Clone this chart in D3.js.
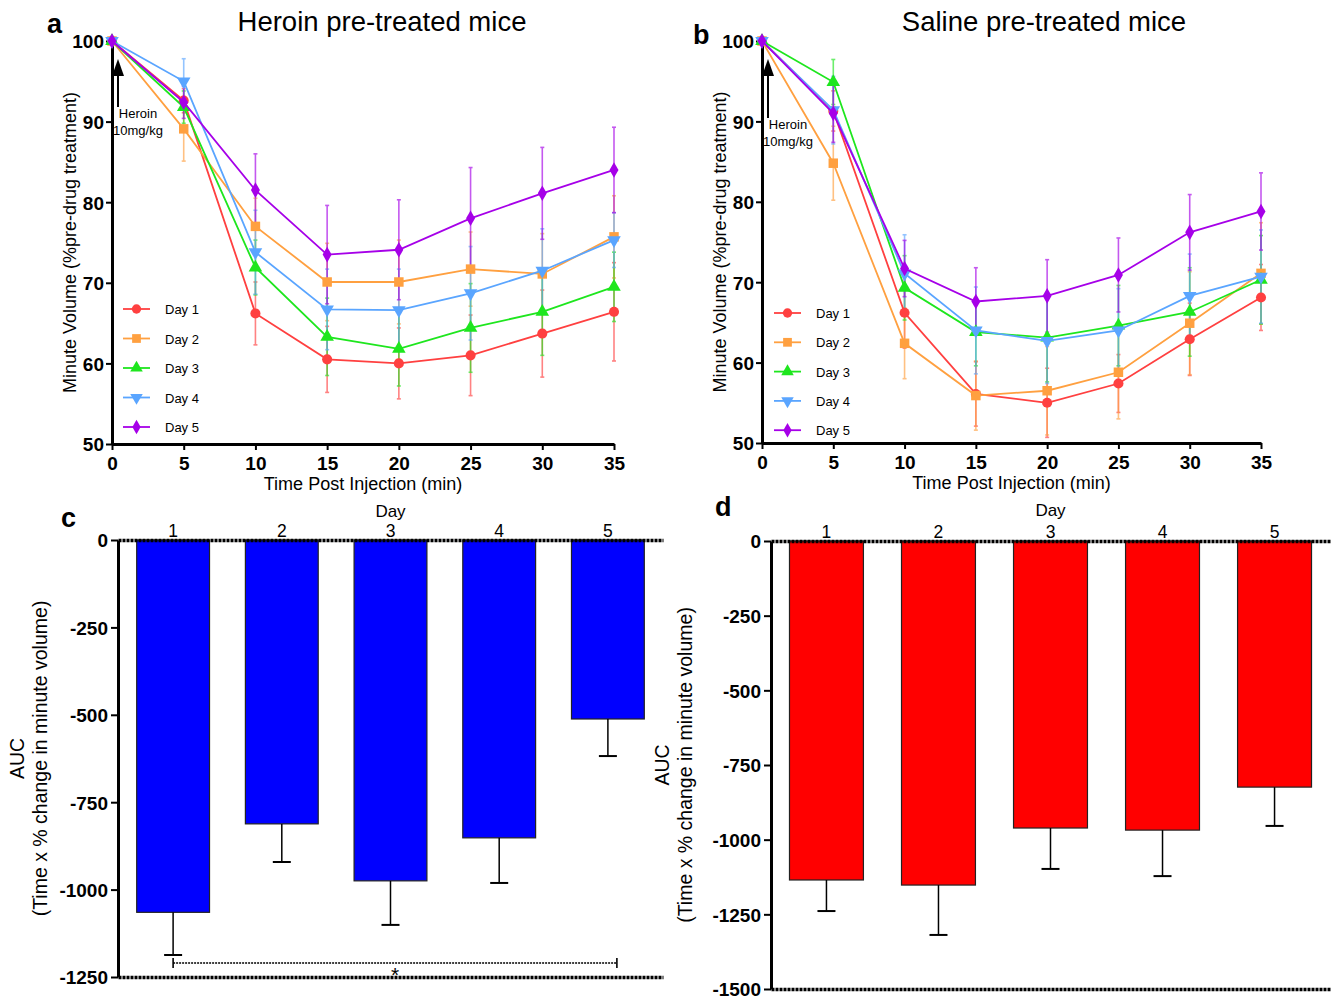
<!DOCTYPE html>
<html>
<head>
<meta charset="utf-8">
<script src="https://cdn.jsdelivr.net/npm/d3@7"></script>
<style>
  body { margin: 0; background: #fff; }
  svg text { font-family: "Liberation Sans", Arial, sans-serif; fill: #000; }
</style>
</head>
<body>
<svg id="fig" width="1338" height="999"></svg>
<script>
// ---- data ----
const times = [0, 5, 10, 15, 20, 25, 30, 35];
const timeTicks = [0, 5, 10, 15, 20, 25, 30, 35];
const volumeTicks = [50, 60, 70, 80, 90, 100];
const dayNames = ["Day 1", "Day 2", "Day 3", "Day 4", "Day 5"];
const dayTicks = ["1", "2", "3", "4", "5"];

// Heroin pre-treated mice: minute volume (% of pre-drug), mean and SEM per day
const heroinDay1 = [100, 92.6, 66.2, 60.5, 60.0, 61.0, 63.7, 66.4];
const heroinDay2 = [100, 89.1, 77.0, 70.1, 70.1, 71.7, 71.1, 75.7];
const heroinDay3 = [100, 91.8, 71.9, 63.3, 61.8, 64.4, 66.4, 69.5];
const heroinDay4 = [100, 95.0, 73.8, 66.7, 66.6, 68.7, 71.5, 75.3];
const heroinDay5 = [100, 92.4, 81.5, 73.5, 74.1, 78.0, 81.1, 84.0];
const heroinSem1 = [0, 1.5, 3.9, 4.1, 4.4, 5.0, 5.4, 6.1];
const heroinSem2 = [0, 4.0, 3.5, 4.8, 5.2, 4.6, 5.0, 5.1];
const heroinSem3 = [0, 2.0, 3.4, 4.8, 4.6, 5.5, 5.4, 4.3];
const heroinSem4 = [0, 2.8, 5.2, 5.0, 5.1, 5.8, 5.2, 3.4];
const heroinSem5 = [0, 2.0, 4.5, 6.1, 6.2, 6.3, 5.7, 5.3];

// Saline pre-treated mice
const salineDay1 = [100, 91.3, 66.2, 56.1, 55.0, 57.4, 62.9, 68.1];
const salineDay2 = [100, 84.8, 62.4, 55.9, 56.5, 58.8, 64.9, 71.1];
const salineDay3 = [100, 94.9, 69.3, 63.8, 63.1, 64.6, 66.3, 70.3];
const salineDay4 = [100, 91.4, 71.1, 64.0, 62.7, 64.0, 68.3, 70.7];
const salineDay5 = [100, 91.0, 71.7, 67.6, 68.3, 70.9, 76.2, 78.8];
const salineSem1 = [0, 2.5, 4.4, 4.0, 4.3, 3.6, 4.5, 4.1];
const salineSem2 = [0, 4.6, 4.4, 4.3, 5.5, 5.8, 6.4, 6.3];
const salineSem3 = [0, 2.8, 4.0, 4.2, 5.5, 5.0, 5.5, 5.5];
const salineSem4 = [0, 4.2, 4.8, 5.4, 5.3, 5.2, 5.2, 5.8];
const salineSem5 = [0, 3.6, 3.5, 4.2, 4.5, 4.6, 4.7, 4.8];

// Area under the curve per day
const heroinAuc = [-1065, -812, -975, -852, -512];
const heroinAucSem = [122, 109, 126, 129, 106];
const salineAuc = [-1135, -1152, -961, -968, -824];
const salineAucSem = [104, 167, 137, 154, 130];
const heroinAucTicks = [0, -250, -500, -750, -1000, -1250];
const salineAucTicks = [0, -250, -500, -750, -1000, -1250, -1500];

// ---- styles ----
const dayColors = ["#ff4040", "#ffa040", "#1ee61e", "#5aa5ff", "#a600e8"];
const daySymbols = [d3.symbolCircle, d3.symbolSquare, d3.symbolTriangle, "down", d3.symbolDiamond];
const symbolSizes = [80, 90, 80, 80, 70];
const plainNumber = d => String(d);

const svg = d3.select("#fig");

function styleAxis(g, bold, size) {
  g.select(".domain").attr("stroke-width", 3).attr("stroke", "#000");
  g.selectAll(".tick line").attr("stroke-width", 2).attr("stroke", "#000");
  g.selectAll(".tick text")
    .attr("font-family", "'Liberation Sans', Arial, sans-serif")
    .attr("font-size", size)
    .attr("font-weight", bold ? "bold" : "normal")
    .attr("fill", "#000");
}

function symbolFor(k) {
  return daySymbols[k] === "down" ? d3.symbolTriangle : daySymbols[k];
}
function rotFor(k) {
  return daySymbols[k] === "down" ? " rotate(180)" : "";
}

function linePanel(cfg) {
  const x = d3.scaleLinear([0, 35], [cfg.x0, cfg.x1]);
  const y = d3.scaleLinear([50, 100], [cfg.yb, cfg.yt]);
  const g = svg.append("g");

  const xa = g.append("g").attr("transform", `translate(0,${cfg.yb})`)
    .call(d3.axisBottom(x).tickValues(timeTicks).tickFormat(plainNumber).tickSize(6).tickSizeOuter(0).tickPadding(7));
  styleAxis(xa, true, 19);
  const ya = g.append("g").attr("transform", `translate(${cfg.x0},0)`)
    .call(d3.axisLeft(y).tickValues(volumeTicks).tickFormat(plainNumber).tickSize(6).tickSizeOuter(0).tickPadding(2));
  styleAxis(ya, true, 19);
  ya.selectAll(".tick text").attr("dy", "0.36em");

  // axis titles
  g.append("text").attr("x", (cfg.x0 + cfg.x1) / 2).attr("y", cfg.yb + 46)
    .attr("text-anchor", "middle").attr("font-size", 18).text("Time Post Injection (min)");
  g.append("text").attr("transform", `translate(${cfg.x0 - 36},${(cfg.yt + cfg.yb) / 2}) rotate(-90)`)
    .attr("text-anchor", "middle").attr("font-size", 18).text("Minute Volume (%pre-drug treatment)");

  // title and panel letter
  g.append("text").attr("x", cfg.titleX).attr("y", 31).attr("text-anchor", "middle")
    .attr("font-family", "Lato, 'Open Sans', sans-serif").attr("font-size", 27.5).text(cfg.title);
  g.append("text").attr("x", cfg.letterX).attr("y", cfg.letterY)
    .attr("font-size", 27).attr("font-weight", "bold").text(cfg.letter);

  // injection arrow
  const ax = x(0) + 6;
  g.append("line").attr("x1", ax).attr("x2", ax).attr("y1", cfg.arrowY1).attr("y2", y(100) + 30)
    .attr("stroke", "#000").attr("stroke-width", 2);
  g.append("path").attr("d", `M${ax},${y(100) + 18}L${ax - 6},${y(100) + 35}L${ax + 6},${y(100) + 35}Z`).attr("fill", "#000");
  g.append("text").attr("x", ax + 20).attr("y", cfg.arrowY1 + 11).attr("text-anchor", "middle")
    .attr("font-size", 13).text("Heroin");
  g.append("text").attr("x", ax + 20).attr("y", cfg.arrowY1 + 28).attr("text-anchor", "middle")
    .attr("font-size", 13).text("10mg/kg");

  const line = d3.line().x((d, i) => x(times[i])).y(d => y(d));

  // error bars (mean ± SEM) under the lines
  cfg.series.forEach((vals, k) => {
    const sem = cfg.sems[k];
    const eb = g.append("g").attr("stroke", dayColors[k]).attr("stroke-width", 1.6).attr("opacity", 0.65);
    vals.forEach((v, i) => {
      if (!sem[i]) return;
      const cx = x(times[i]);
      eb.append("line").attr("x1", cx).attr("x2", cx).attr("y1", y(v - sem[i])).attr("y2", y(v + sem[i]));
      eb.append("line").attr("x1", cx - 2).attr("x2", cx + 2).attr("y1", y(v - sem[i])).attr("y2", y(v - sem[i]));
      eb.append("line").attr("x1", cx - 2).attr("x2", cx + 2).attr("y1", y(v + sem[i])).attr("y2", y(v + sem[i]));
    });
  });
  cfg.series.forEach((vals, k) => {
    const col = dayColors[k];
    g.append("path").datum(vals).attr("d", line).attr("fill", "none")
      .attr("stroke", col).attr("stroke-width", 1.8);
    g.selectAll(null).data(vals).join("path")
      .attr("d", d3.symbol(symbolFor(k), symbolSizes[k])())
      .attr("fill", col)
      .attr("transform", (d, i) => `translate(${x(times[i])},${y(d)})${rotFor(k)}`);
  });

  // legend
  dayNames.forEach((name, k) => {
    const ly = cfg.legY + k * cfg.legDy;
    g.append("line").attr("x1", cfg.legX).attr("x2", cfg.legX + 27).attr("y1", ly).attr("y2", ly)
      .attr("stroke", dayColors[k]).attr("stroke-width", 1.8);
    g.append("path").attr("d", d3.symbol(symbolFor(k), symbolSizes[k] * 0.85)())
      .attr("fill", dayColors[k]).attr("transform", `translate(${cfg.legX + 13.5},${ly})${rotFor(k)}`);
    g.append("text").attr("x", cfg.legX + 42).attr("y", ly + 5).attr("font-size", 13).text(name);
  });
}

function barPanel(cfg) {
  const x = d3.scaleBand(dayTicks, [cfg.x0, cfg.x1]).paddingInner(cfg.pi).paddingOuter(cfg.po);
  const y = d3.scaleLinear([cfg.min, 0], [cfg.yb, cfg.yt]);
  const g = svg.append("g");

  // bars
  g.selectAll(null).data(cfg.values).join("rect")
    .attr("x", (d, i) => x(dayTicks[i]))
    .attr("width", x.bandwidth())
    .attr("y", y(0))
    .attr("height", d => y(d) - y(0))
    .attr("fill", cfg.color).attr("stroke", "#222").attr("stroke-width", 1.2);

  // error bars (away from zero)
  cfg.values.forEach((v, i) => {
    const cx = x(dayTicks[i]) + x.bandwidth() / 2;
    g.append("line").attr("x1", cx).attr("x2", cx).attr("y1", y(v)).attr("y2", y(v - cfg.sems[i]))
      .attr("stroke", "#000").attr("stroke-width", 1.5);
    g.append("line").attr("x1", cx - 9).attr("x2", cx + 9).attr("y1", y(v - cfg.sems[i])).attr("y2", y(v - cfg.sems[i]))
      .attr("stroke", "#000").attr("stroke-width", 2);
  });

  // top category axis on the zero line, and the bottom dotted frame line
  const top = g.append("g").attr("transform", `translate(0,${cfg.yt})`)
    .call(d3.axisTop(x).tickSize(0).tickSizeOuter(0).tickPadding(3));
  styleAxis(top, false, 17.5);
  top.select(".domain").attr("stroke-dasharray", "3,1").attr("stroke-width", 3.5);
  const bottom = g.append("g").attr("transform", `translate(0,${cfg.yb})`)
    .call(d3.axisBottom(x).tickValues([]).tickSizeOuter(0));
  bottom.select(".domain").attr("stroke", "#000").attr("stroke-dasharray", "3,1").attr("stroke-width", 3.5);

  const ya = g.append("g").attr("transform", `translate(${cfg.x0},0)`)
    .call(d3.axisLeft(y).tickValues(cfg.ticks).tickFormat(plainNumber).tickSize(7).tickSizeOuter(0).tickPadding(3));
  styleAxis(ya, true, 19);
  ya.selectAll(".tick text").attr("dy", "0.36em");

  g.append("text").attr("x", (cfg.x0 + cfg.x1) / 2).attr("y", cfg.dayY).attr("text-anchor", "middle")
    .attr("font-size", 17).text("Day");
  const cy = (cfg.yt + cfg.yb) / 2 + cfg.titleShift;
  g.append("text").attr("transform", `translate(${cfg.titleX},${cy}) rotate(-90)`)
    .attr("text-anchor", "middle").attr("font-size", 19.5).text("AUC");
  g.append("text").attr("transform", `translate(${cfg.titleX + 23},${cy}) rotate(-90)`)
    .attr("text-anchor", "middle").attr("font-size", 19.5).text("(Time x % change in minute volume)");
  g.append("text").attr("x", cfg.letterX).attr("y", cfg.letterY)
    .attr("font-size", 27).attr("font-weight", "bold").text(cfg.letter);

  if (cfg.bracket) {
    const bx1 = x(dayTicks[0]) + x.bandwidth() / 2;
    const bx2 = x(dayTicks[4]) + x.bandwidth() / 2 + 9;
    const by = cfg.bracket;
    const bg = g.append("g").attr("stroke", "#000").attr("stroke-width", 1.3);
    bg.append("line").attr("x1", bx1).attr("x2", bx2).attr("y1", by).attr("y2", by).attr("stroke-dasharray", "2,1");
    bg.append("line").attr("x1", bx1).attr("x2", bx1).attr("y1", by - 5).attr("y2", by + 5).attr("stroke-width", 1.6);
    bg.append("line").attr("x1", bx2).attr("x2", bx2).attr("y1", by - 5).attr("y2", by + 5).attr("stroke-width", 1.6);
    g.append("text").attr("x", (bx1 + bx2) / 2).attr("y", by + 19).attr("text-anchor", "middle")
      .attr("font-size", 21).text("*");
  }
}

linePanel({
  x0: 112, x1: 614, yt: 41, yb: 444, title: "Heroin pre-treated mice", titleX: 382,
  letter: "a", letterX: 47, letterY: 33, arrowY1: 107,
  legX: 123, legY: 309, legDy: 29.5,
  series: [heroinDay1, heroinDay2, heroinDay3, heroinDay4, heroinDay5],
  sems: [heroinSem1, heroinSem2, heroinSem3, heroinSem4, heroinSem5]
});

linePanel({
  x0: 762, x1: 1261, yt: 41, yb: 443, title: "Saline pre-treated mice", titleX: 1044,
  letter: "b", letterX: 693, letterY: 44, arrowY1: 118,
  legX: 774, legY: 313, legDy: 29.3,
  series: [salineDay1, salineDay2, salineDay3, salineDay4, salineDay5],
  sems: [salineSem1, salineSem2, salineSem3, salineSem4, salineSem5]
});

barPanel({
  x0: 118, x1: 663, yt: 540, yb: 977, min: -1250, pi: 0.33, po: 0.172,
  values: heroinAuc, sems: heroinAucSem, ticks: heroinAucTicks, color: "#0000ff",
  dayY: 517, titleX: 24, titleShift: 0, letter: "c", letterX: 61, letterY: 527, bracket: 963
});

barPanel({
  x0: 771, x1: 1330, yt: 541, yb: 989, min: -1500, pi: 0.34, po: 0.165,
  values: salineAuc, sems: salineAucSem, ticks: salineAucTicks, color: "#ff0000",
  dayY: 516, titleX: 669, titleShift: 0, letter: "d", letterX: 715, letterY: 516, bracket: null
});
</script>
</body>
</html>
